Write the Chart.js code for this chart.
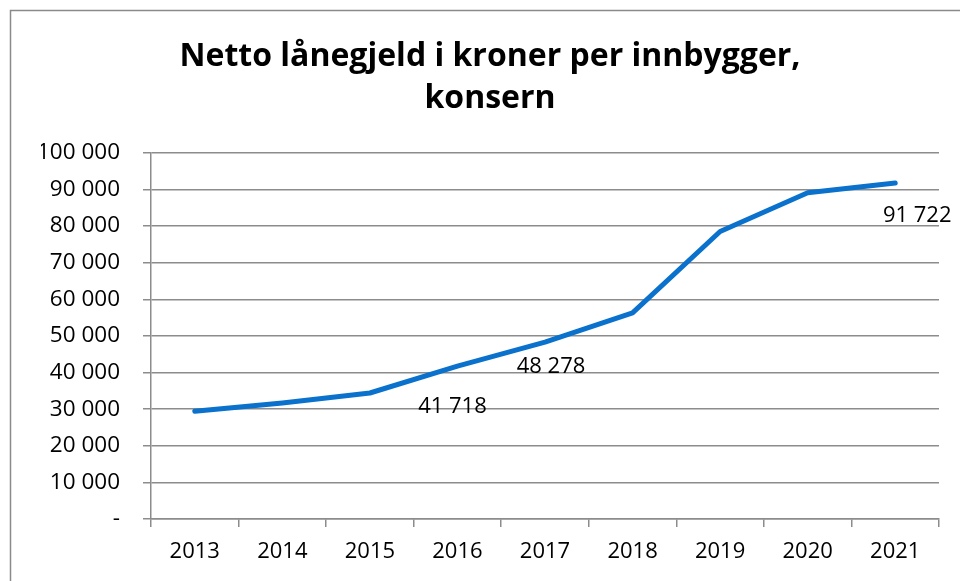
<!DOCTYPE html>
<html>
<head>
<meta charset="utf-8">
<script src="https://cdn.jsdelivr.net/npm/chart.js@4/dist/chart.umd.min.js"></script>
<style>
  html,body{margin:0;padding:0;background:#fff}
  #wrap{width:960px;height:581px;position:relative}
</style>
</head>
<body>
<div id="wrap"><canvas id="chart" width="960" height="581"></canvas></div>
<script>
// ---- Data ----
const years = ["2013","2014","2015","2016","2017","2018","2019","2020","2021"];
const gjeld = [29400, 31700, 34400, 41718, 48278, 56300, 78500, 89100, 91722];
const yTickLabels = ["-","10 000","20 000","30 000","40 000","50 000","60 000","70 000","80 000","90 000","100 000"];
const labelled = [3, 4, 8];   // points with a value label

// ---- Style ----
const FONT = "'Open Sans', 'Liberation Sans', sans-serif";
const GRID = "#8c8c8c";
const labelOffsets = {3:[-5,41], 4:[6,25], 8:[22,33]};

const fmt = v => String(Math.round(v)).replace(/\B(?=(\d{3})+(?!\d))/g, " ");

const frame = {
  id:"frame",
  beforeDraw(c){
    const ctx=c.ctx; ctx.save();
    ctx.strokeStyle="#8a8a8a"; ctx.lineWidth=1.5;
    ctx.strokeRect(10.5,10.5,1200,1200);
    ctx.restore();
  }
};

const valueLabels = {
  id:"valueLabels",
  afterDatasetsDraw(c){
    const ctx=c.ctx, meta=c.getDatasetMeta(0);
    ctx.save();
    ctx.font = "22px " + FONT;
    ctx.fillStyle="#000"; ctx.textAlign="center"; ctx.textBaseline="middle";
    for(const i of labelled){
      const p=meta.data[i], o=labelOffsets[i]||[0,0];
      ctx.fillText(fmt(gjeld[i]), p.x+o[0], p.y+o[1]);
    }
    ctx.restore();
  }
};

new Chart(document.getElementById("chart"),{
  type:"line",
  data:{labels:years, datasets:[{
    data:gjeld, borderColor:"#0A72CC", borderWidth:5,
    borderCapStyle:"round", borderJoinStyle:"round",
    pointRadius:0, tension:0, fill:false
  }]},
  options:{
    responsive:false, animation:false,
    layout:{padding:{left:41,right:21,top:0,bottom:0}},
    plugins:{
      legend:{display:false}, tooltip:{enabled:false},
      title:{display:true, text:["Netto lånegjeld i kroner per innbygger,","konsern"],
        color:"#000", font:{family:FONT, size:32, weight:"bold", lineHeight:1.34},
        padding:{top:35,bottom:32}}
    },
    scales:{
      x:{
        offset:true,
        grid:{display:true, drawOnChartArea:false, drawTicks:true, tickLength:8, color:GRID, lineWidth:1.5, offset:true},
        border:{display:true, color:GRID, width:1.5},
        ticks:{color:"#000", font:{family:FONT, size:22}, padding:12, maxRotation:0},
        afterFit(s){ s.height = 62; }
      },
      y:{
        min:0, max:100000,
        ticks:{stepSize:10000, color:"#000", font:{family:FONT, size:22.5}, padding:23,
          callback:(v,i)=>yTickLabels[i]},
        grid:{color:GRID, lineWidth:1.5, tickLength:8},
        border:{display:true, color:GRID, width:1.5},
        afterFit(s){ s.width = 110; }
      }
    }
  },
  plugins:[frame, valueLabels]
});
</script>
</body>
</html>
